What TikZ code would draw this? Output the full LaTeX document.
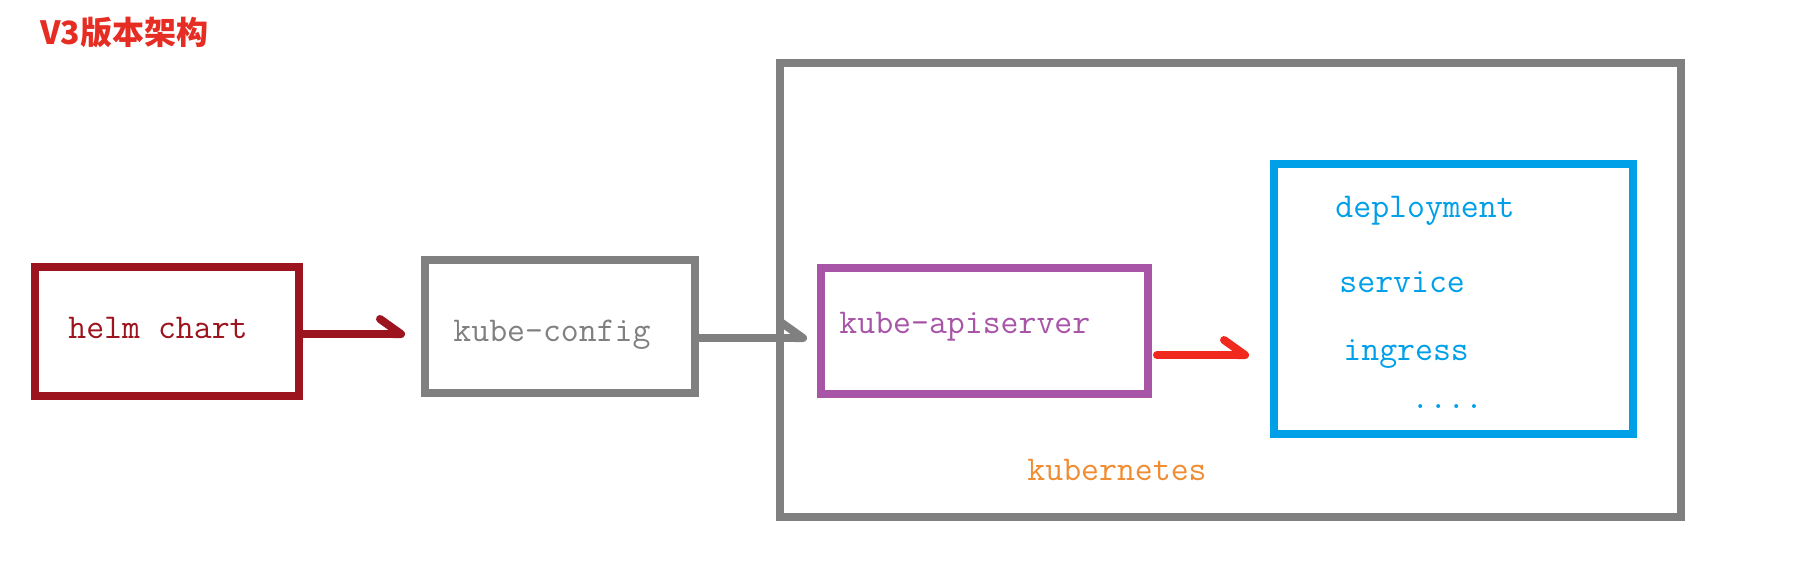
\documentclass[tikz,border=0pt]{standalone}
\usepackage{fontspec}
\usepackage{tikz}
\usetikzlibrary{arrows.meta}
\usetikzlibrary{positioning}
\newfontfamily\cjkfont{Noto Sans CJK SC}
\definecolor{helmred}{RGB}{155,20,30}
\definecolor{cfggray}{RGB}{128,128,128}
\definecolor{apipurple}{RGB}{168,85,168}
\definecolor{arrowred}{RGB}{240,40,30}
\definecolor{resblue}{RGB}{0,160,232}
\definecolor{k8sorange}{RGB}{240,140,50}
\definecolor{titlered}{RGB}{230,45,35}

\begin{document}
\begin{tikzpicture}[
		x=0.5pt, y=-0.5pt,
		box/.style={draw=#1, line width=4pt, inner sep=0pt, rectangle},
		lbl/.style={font=\ttfamily\fontsize{17.4}{20}\selectfont, inner sep=0pt, anchor=base west},
		flow/.style={line width=4pt, line cap=round,
				-{Straight Barb[left, round, length=10.5pt, width=15pt]}}
	]
	\useasboundingbox (0,0) rectangle (1803,567);

	% Title
	\node[font=\cjkfont\bfseries\fontsize{16}{18}\selectfont, text=titlered,
		anchor=base west, inner sep=0pt] (title) at (40,45) {V3版本架构};

	% Boxes
	\node[box=cfggray, minimum width=450.5pt, minimum height=227pt] (k8sbox) at (1230.5,290) {};
	\node[box=helmred, minimum width=132pt, minimum height=64.5pt] (helmbox) at (167,331.5) {};
	\node[box=cfggray, minimum width=135pt, minimum height=66.5pt] (kcbox) at (560,326.5) {};
	\node[box=apipurple, minimum width=163.5pt, minimum height=63pt] (apibox) at (984.5,331) {};
	\node[box=resblue, minimum width=179.5pt, minimum height=135pt] (resbox) at (1453.5,299) {};

	% Labels
	\node[lbl, text=helmred] (helm) at (68,338) {helm chart};
	\node[lbl, text=cfggray] (kubeconfig) at (453,341) {kube-config};
	\node[lbl, text=apipurple] (apiserver) at (839,333) {kube-apiserver};
	\node[lbl, text=k8sorange] (k8s) at (1027,480) {kubernetes};
	\foreach \name/\txt/\xx/\yy in {dep/deployment/1335/217, svc/service/1339/292,
			ing/ingress/1343/360}{
			\node[lbl, text=resblue] (\name) at (\xx,\yy) {\txt};
		}
	\node[lbl, text=resblue] (more) at (1411,408) {....};

	% Connectors
	\coordinate (a1) at ([yshift=-1.25pt]helmbox.east);
	\coordinate (a2) at ([yshift=-5.75pt]kcbox.east);
	\coordinate (a3) at ([yshift=-12pt]apibox.east);
	\draw[flow, draw=helmred, shorten >=8pt] (a1) -- (a1 -| kcbox.west);
	\draw[flow, draw=cfggray, shorten >=5pt] (a2) -- (a2 -| apibox.west);
	\draw[flow, draw=arrowred, shorten <=2.5pt, shorten >=10.5pt] (a3) -- (a3 -| resbox.west);
\end{tikzpicture}
\end{document}
